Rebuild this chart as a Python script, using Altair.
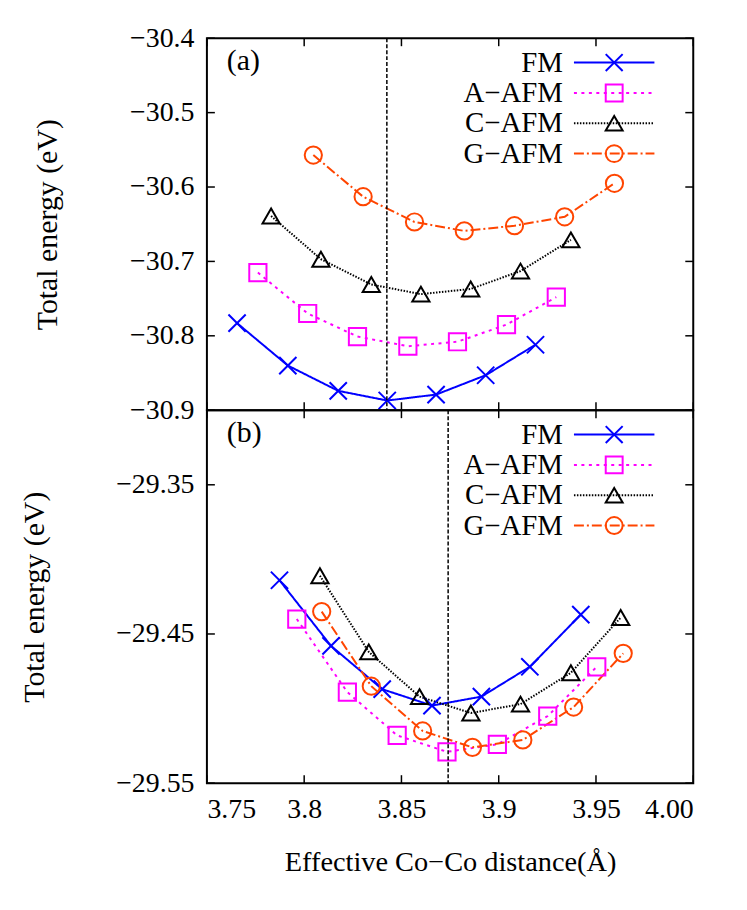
import altair as alt
import pandas as pd

SERIES = ["FM", "A\u2212AFM", "C\u2212AFM", "G\u2212AFM"]
COLORS = ["#0000ff", "#ff00ff", "#000000", "#ff4500"]
DASHES = [[1, 0], [3, 4.5], [1.5, 1.5], [10, 3, 2, 3]]
XPATH = "M-1,-1L1,1M-1,1L1,-1"
SHAPES = [XPATH, "square", "triangle-up", "circle"]
LINEPATH = "M-4.76,0H4.76"

# panel (a)
a_fm_x = [3.7655, 3.7916, 3.8175, 3.8427, 3.8678, 3.8933, 3.9189]
a_fm_e = [-30.783, -30.840, -30.874, -30.887, -30.879, -30.853, -30.812]
a_a_x = [3.7762, 3.8018, 3.8274, 3.8533, 3.8788, 3.9040, 3.9296]
a_a_e = [-30.715, -30.770, -30.801, -30.814, -30.808, -30.785, -30.748]
a_c_x = [3.7830, 3.8086, 3.8345, 3.8600, 3.8856, 3.9112, 3.9371]
a_c_e = [-30.639, -30.697, -30.731, -30.744, -30.737, -30.713, -30.671]
a_g_x = [3.8047, 3.8303, 3.8567, 3.8823, 3.9081, 3.9339, 3.9595]
a_g_e = [-30.557, -30.613, -30.647, -30.659, -30.652, -30.640, -30.595]
a_vline = 3.8425

# panel (b)
b_fm_x = [3.7873, 3.8138, 3.8401, 3.8657, 3.8911, 3.9160, 3.9422]
b_fm_e = [-29.414, -29.458, -29.487, -29.498, -29.492, -29.472, -29.437]
b_a_x = [3.7962, 3.8222, 3.8478, 3.8734, 3.8993, 3.9252, 3.9504]
b_a_e = [-29.440, -29.489, -29.518, -29.529, -29.524, -29.505, -29.472]
b_c_x = [3.8081, 3.8332, 3.8593, 3.8857, 3.9112, 3.9371, 3.9627]
b_c_e = [-29.411, -29.462, -29.492, -29.503, -29.497, -29.476, -29.439]
b_g_x = [3.8090, 3.8345, 3.8609, 3.8865, 3.9124, 3.9385, 3.9640]
b_g_e = [-29.435, -29.485, -29.515, -29.526, -29.521, -29.499, -29.463]
b_vline = 3.874

X_TICKS = [3.75, 3.8, 3.85, 3.9, 3.95, 4.0]
A_YTICKS = [-30.9, -30.8, -30.7, -30.6, -30.5, -30.4]
B_YTICKS = [-29.55, -29.45, -29.35]

FONT = "Times"
W = 489
TL = 8  # inward tick length


def frame(xs, es):
    rows = []
    for name, x, e in zip(SERIES, xs, es):
        for xi, ei in zip(x, e):
            rows.append({"x": xi, "E": ei, "name": name})
    return pd.DataFrame(rows)


def panel(df, vline, ydom, yticks, yfmt, label, height, bottom_labels):
    xscale = alt.Scale(domain=[3.75, 4.0], nice=False, zero=False)
    yscale = alt.Scale(domain=ydom, nice=False, zero=False)
    if bottom_labels:
        xaxis_b = alt.Axis(orient="bottom", values=X_TICKS, ticks=False, tickSize=0,
                           domain=False, grid=False,
                           labelPadding=13, labelFont=FONT, labelFontSize=28, labelColor="black",
                           labelExpr="datum.value >= 3.999 ? '4.00' : format(datum.value, '.6~g')",
                           title="Effective Co\u2212Co distance(\u00c5)", titleFont=FONT,
                           titleFontSize=28.5, titleFontWeight="normal", titleColor="black",
                           titlePadding=24)
        xb = alt.X("x:Q", scale=xscale, axis=xaxis_b)
    else:
        xb = alt.X("x:Q", scale=xscale, axis=None)
    yaxis_l = alt.Axis(orient="left", values=yticks, format=yfmt, ticks=False, tickSize=0,
                       domain=False, grid=False,
                       labelPadding=13, labelFont=FONT, labelFontSize=28, labelColor="black",
                       title="Total energy (eV)", titleFont=FONT, titleFontSize=30,
                       titleFontWeight="normal", titleColor="black", titlePadding=67)

    line_legend = alt.Legend(orient="none", legendX=395, legendY=10, title=None,
                             symbolType=LINEPATH, symbolSize=289, symbolStrokeWidth=2,
                             labelAlign="right", labelOffset=alt.ExprRef("-66"), labelFont=FONT,
                             labelFontSize=29, labelColor="black", rowPadding=0.5)
    point_legend = alt.Legend(orient="none", legendX=395, legendY=10, title=None,
                              symbolSize=289, symbolStrokeWidth=2, labelOpacity=0,
                              labelFontSize=29, labelFont=FONT, rowPadding=0.5)

    lines = alt.Chart(df).mark_line(strokeWidth=2).encode(
        x=xb,
        y=alt.Y("E:Q", scale=yscale, axis=yaxis_l),
        color=alt.Color("name:N", scale=alt.Scale(domain=SERIES, range=COLORS), legend=line_legend),
        strokeDash=alt.StrokeDash("name:N", scale=alt.Scale(domain=SERIES, range=DASHES),
                                  legend=line_legend),
    )
    points = alt.Chart(df).mark_point(filled=False, strokeWidth=2, size=300, opacity=1).encode(
        x=alt.X("x:Q", scale=xscale, axis=None),
        y=alt.Y("E:Q", scale=yscale, axis=None),
        color=alt.Color("name:N", scale=alt.Scale(domain=SERIES, range=COLORS), legend=point_legend),
        shape=alt.Shape("name:N", scale=alt.Scale(domain=SERIES, range=SHAPES), legend=point_legend),
    )
    rule = alt.Chart(pd.DataFrame({"v": [vline]})).mark_rule(
        color="black", strokeWidth=1.5, strokeDash=[4, 2]
    ).encode(x=alt.X("v:Q", scale=xscale, axis=None))
    text = alt.Chart(pd.DataFrame({"t": [label]})).mark_text(
        align="left", baseline="middle", font=FONT, fontSize=30, color="black"
    ).encode(text="t:N", x=alt.value(20), y=alt.value(23))

    # inward tick marks on all four sides, placed through the panel's scales
    xt = pd.DataFrame({"v": X_TICKS})
    yt = pd.DataFrame({"v": yticks})
    tick = dict(color="black", strokeWidth=1.5)
    t_top = alt.Chart(xt).mark_rule(**tick).encode(
        x=alt.X("v:Q", scale=xscale, axis=None), y=alt.value(0), y2=alt.value(TL))
    t_bot = alt.Chart(xt).mark_rule(**tick).encode(
        x=alt.X("v:Q", scale=xscale, axis=None), y=alt.value(height), y2=alt.value(height - TL))
    t_left = alt.Chart(yt).mark_rule(**tick).encode(
        y=alt.Y("v:Q", scale=yscale, axis=None), x=alt.value(0), x2=alt.value(TL))
    t_right = alt.Chart(yt).mark_rule(**tick).encode(
        y=alt.Y("v:Q", scale=yscale, axis=None), x=alt.value(W), x2=alt.value(W - TL))

    return alt.layer(lines, points, rule, t_top, t_bot, t_left, t_right, text).resolve_scale(
        color="independent", shape="independent", strokeDash="independent"
    ).resolve_axis(x="independent", y="independent").properties(width=W, height=height)


dfa = frame([a_fm_x, a_a_x, a_c_x, a_g_x], [a_fm_e, a_a_e, a_c_e, a_g_e])
dfb = frame([b_fm_x, b_a_x, b_c_x, b_g_x], [b_fm_e, b_a_e, b_c_e, b_g_e])

pa = panel(dfa, a_vline, [-30.9, -30.4], A_YTICKS, ".1f", "(a)", 374, False)
pb = panel(dfb, b_vline, [-29.55, -29.30], B_YTICKS, ".2f", "(b)", 375, True)

chart = alt.vconcat(pa, pb, spacing=0, bounds="flush").resolve_scale(
    x="independent", y="independent", color="independent", shape="independent",
    strokeDash="independent"
).configure(font=FONT).configure_axis(labelFont=FONT, titleFont=FONT).configure_view(
    stroke="black", strokeWidth=2
).properties(
    padding={"left": 10, "top": 13, "right": 5, "bottom": 5}, background="white"
)

chart.save("out.html", embed_options={"renderer": "svg", "actions": False})
